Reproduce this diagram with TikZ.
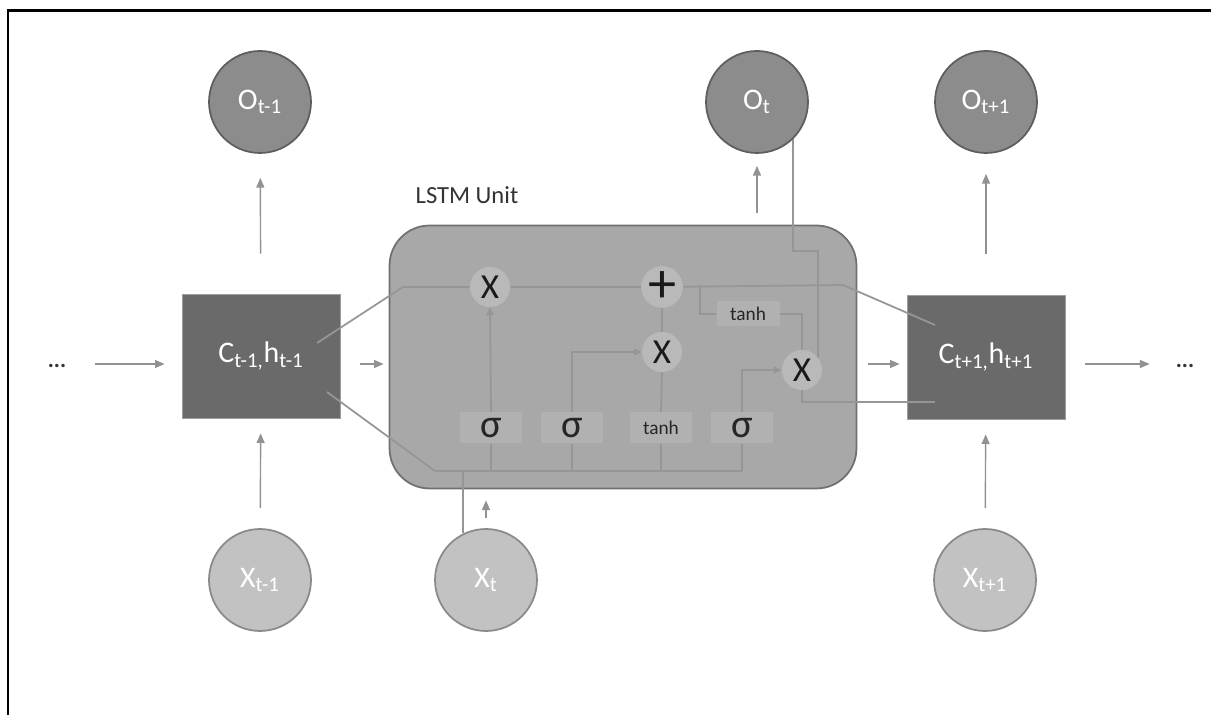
\documentclass[tikz,border=0pt]{standalone}
\usepackage{fontspec}
\setmainfont{Carlito}
\usetikzlibrary{arrows.meta,calc}
\pgfdeclarelayer{base}
\pgfdeclarelayer{wires}
\pgfsetlayers{base,wires,main}
\definecolor{outc}{HTML}{8C8C8C}
\definecolor{ringc}{HTML}{5E5E5E}
\definecolor{inc}{HTML}{C2C2C2}
\definecolor{inring}{HTML}{8A8A8A}
\definecolor{statec}{HTML}{6A6A6A}
\definecolor{edgec}{HTML}{9E9E9E}
\definecolor{unitc}{HTML}{A8A8A8}
\definecolor{unitring}{HTML}{707070}
\definecolor{opc}{HTML}{B9B9B9}
\definecolor{gatec}{HTML}{B1B1B1}
\definecolor{wirec}{HTML}{969696}
\definecolor{feedc}{HTML}{929292}
\definecolor{labelc}{HTML}{333333}
\begin{document}
\begin{tikzpicture}[x=0.02cm, y=-0.02cm,
  outnode/.style={circle, draw=ringc, line width=1pt, fill=outc, minimum size=2.04cm, inner sep=0pt, text=white, font=\fontsize{17}{17}\selectfont},
  innode/.style={outnode, fill=inc, draw=inring},
  statebox/.style={rectangle, draw=edgec, fill=statec, minimum width=3.16cm, minimum height=2.48cm, text=white, font=\fontsize{17}{17}\selectfont},
  unitbox/.style={rectangle, rounded corners=0.8cm, draw=unitring, line width=1pt, fill=unitc, minimum width=9.34cm, minimum height=5.26cm},
  opnode/.style={circle, fill=opc, minimum size=0.8cm, inner sep=0pt, text=black!90, font=\fontsize{20}{20}\selectfont},
  gatebox/.style={rectangle, fill=gatec, minimum width=1.24cm, minimum height=0.62cm, inner sep=0pt, text=black!85, font=\fontsize{23}{23}\selectfont},
  feed/.style={draw=feedc, line width=0.8pt, -{Triangle[length=5.5pt,width=4.5pt]}},
  wire/.style={draw=wirec, line width=1pt},
  gatein/.style={wire, -{Triangle[length=4.5pt,width=4pt]}}
]
\useasboundingbox (0,0) rectangle (1211,715);
\draw[line width=0.06cm] (1211,11) -- (8,11) -- (8,715);

% outputs, inputs and states
\node[outnode] (otm) at (260,102) {O\textsubscript{t-1}};
\node[outnode] (ot) at (757,102) {O\textsubscript{t}};
\node[outnode] (otp) at (986,102) {O\textsubscript{t+1}};
\node[innode] (xtm) at (260,580) {X\textsubscript{t-1}};
\node[innode] (xt) at (486,580) {X\textsubscript{t}};
\node[innode] (xtp) at (985,580) {X\textsubscript{t+1}};
\begin{pgfonlayer}{base}
\node[unitbox] (unit) at (623,357) {};
\node[statebox] (cprev) at (261,356) {C\textsubscript{t-1,}h\textsubscript{t-1}};
\node[statebox] (cnext) at (986,357) {C\textsubscript{t+1,}h\textsubscript{t+1}};
\end{pgfonlayer}
\node[text=labelc, font=\fontsize{14}{14}\selectfont] (title) at (467,195) {LSTM Unit};
\node[text=labelc, font=\fontsize{13}{13}\selectfont\bfseries] (dl) at (57,366) {...};
\node[text=labelc, font=\fontsize{13}{13}\selectfont\bfseries] (dr) at (1185,366) {...};

% inside the unit
\node[opnode] (mf) at (490,287) {X};
\node[opnode, font=\fontsize{32}{32}\selectfont] (add) at (662,287) {+};
\node[opnode] (mi) at (662,352) {X};
\node[opnode] (mo) at (802,370) {X};
\node[gatebox, minimum width=1.26cm, minimum height=0.5cm, font=\fontsize{11}{11}\selectfont] (tc) at (748,314) {tanh};
\node[gatebox] (gf) at (491,428) {σ};
\node[gatebox] (gi) at (572,428) {σ};
\node[gatebox, font=\fontsize{11}{11}\selectfont] (gc) at (661,428) {tanh};
\node[gatebox] (go) at (742,428) {σ};

\coordinate (lv) at (0,364);
\coordinate (kf) at (403,287);
\coordinate (kb) at (435,471);
\coordinate (kc) at (843,285);
\coordinate (kt) at (700,285);
\coordinate (kd) at (818,251);

\begin{pgfonlayer}{wires}
\draw[wire] ($(cprev.center)+(56,-13)$) -- (kf) -- (mf);
\draw[wire] ($(cprev.center)+(66,36)$) -- (kb) -- (kb -| go.south);
\foreach \g in {gf,gi,gc,go}
  \draw[wire] (\g.south) -- (\g.south |- kb);
\draw[wire] (xt.116) -- (xt.116 |- kb);
\draw[wire] (mf) -- (add) -- (kc) -- ($(cnext.center)+(-51,-32)$);
\draw[wire] (kt) |- (tc.west);
\draw[wire] (tc.east) -| (mo.north);
\draw[gatein] (gf.north) -- (mf.south);
\draw[gatein] (gi.north) |- (mi.west);
\draw[gatein] (go.north) |- (mo.west);
\draw[wire] (gc.north) -- (mi.south);
\draw[wire] (mi.north) -- (add.south);
\draw[wire] (mo.south) |- ($(cnext.center)+(-51,45)$);
\draw[wire] (ot.-46) -- (ot.-46 |- kd) -- (kd) -- (kd |- mo.east);
\end{pgfonlayer}

% flow between steps
\draw[feed, shorten <=0.46cm, shorten >=0.34cm] (dl.east |- lv) -- (cprev.west |- lv);
\draw[feed, shorten <=0.4cm, shorten >=0.1cm] (cprev.east |- lv) -- (unit.west |- lv);
\draw[feed, shorten <=0.22cm, shorten >=0.14cm] (unit.east |- lv) -- (cnext.west |- lv);
\draw[feed, shorten <=0.4cm, shorten >=0.4cm] (cnext.east |- lv) -- (dr.west |- lv);
\draw[feed, shorten <=0.4cm, shorten >=0.3cm] (xtm) -- (cprev);
\draw[feed, shorten <=0.8cm, shorten >=0.48cm] (cprev) -- (otm);
\draw[feed, shorten <=0.4cm, shorten >=0.3cm] (xtp) -- (cnext);
\draw[feed, shorten <=0.82cm, shorten >=0.4cm] (cnext) -- (otp);
\draw[feed, shorten <=0.2cm, shorten >=0.22cm] (xt.north) -- (xt.north |- unit.south);
\draw[feed, shorten <=0.24cm, shorten >=0.24cm] (unit.north -| ot) -- (ot.south);
\end{tikzpicture}
\end{document}
